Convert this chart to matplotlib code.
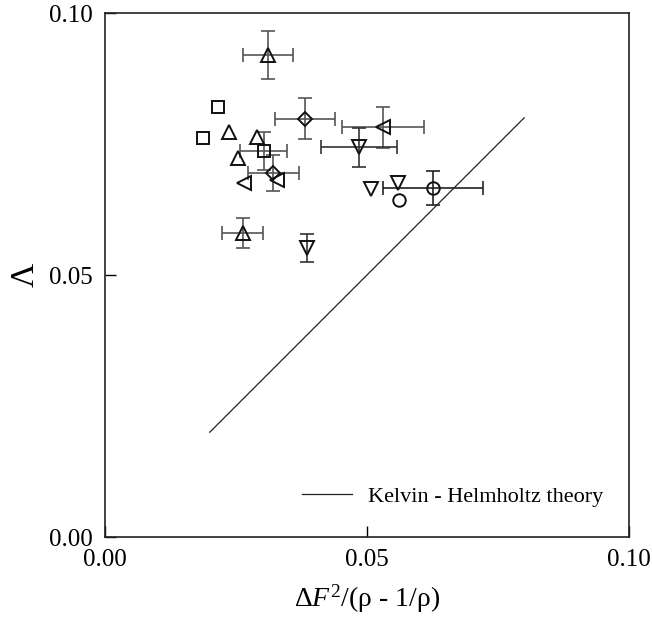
import matplotlib
matplotlib.use('Agg')
import matplotlib.pyplot as plt

plt.rcParams['font.family'] = ['Liberation Serif', 'DejaVu Serif']
plt.rcParams['mathtext.fontset'] = 'custom'
plt.rcParams['mathtext.rm'] = 'Liberation Serif'
plt.rcParams['mathtext.it'] = 'Liberation Serif:italic'

# data: x, y, xerr, yerr (0 = no bar)
up_x = [0.0311, 0.0237, 0.0290, 0.0254, 0.0263]
up_y = [0.0920, 0.0773, 0.0763, 0.0723, 0.0580]
up_xerr = [0.0047, 0, 0, 0, 0.0039]
up_yerr = [0.0046, 0, 0, 0, 0.0029]

sq_x = [0.0216, 0.0187, 0.0303]
sq_y = [0.0821, 0.0761, 0.0737]
sq_xerr = [0, 0, 0.0045]
sq_yerr = [0, 0, 0.0036]

dia_x = [0.0321, 0.0382]
dia_y = [0.0695, 0.0798]
dia_xerr = [0.0049, 0.0057]
dia_yerr = [0.0034, 0.0039]

left_x = [0.0265, 0.0328, 0.0531]
left_y = [0.0676, 0.0681, 0.0782]
left_xerr = [0, 0, 0.0078]
left_yerr = [0, 0, 0.0039]

down_x = [0.0385, 0.0485, 0.0508, 0.0559]
down_y = [0.0552, 0.0744, 0.0664, 0.0676]
down_xerr = [0, 0.0073, 0, 0]
down_yerr = [0.0027, 0.0037, 0, 0]

circ_x = [0.0561, 0.0626]
circ_y = [0.0643, 0.0666]
circ_xerr = [0, 0.0095]
circ_yerr = [0, 0.0032]

kh_x = [0.02, 0.08]
kh_y = [0.02, 0.08]

groups = [
    (up_x, up_y, up_xerr, up_yerr, '^', 10, '#555555'),
    (sq_x, sq_y, sq_xerr, sq_yerr, 's', 8, '#555555'),
    (dia_x, dia_y, dia_xerr, dia_yerr, 'D', 7, '#555555'),
    (left_x, left_y, left_xerr, left_yerr, '<', 10, '#555555'),
    (down_x, down_y, down_xerr, down_yerr, 'v', 10, '#333333'),
    (circ_x, circ_y, circ_xerr, circ_yerr, 'o', 9, '#222222'),
]

fig = plt.figure(figsize=(6.52, 6.25), dpi=100)
ax = fig.add_axes([0.161, 0.1408, 0.8037, 0.8384])

for xs, ys, xe, ye, m, ms, ec in groups:
    for x, y, dx, dy in zip(xs, ys, xe, ye):
        if dx > 0 or dy > 0:
            ax.errorbar(x, y, xerr=dx if dx > 0 else None, yerr=dy if dy > 0 else None,
                        fmt='none', ecolor=ec, elinewidth=1.2, capsize=5, capthick=1.2, zorder=2)
    ax.plot(xs, ys, m, ms=ms, mfc='none', mec='#111111', mew=1.4, zorder=3)

ax.plot(kh_x, kh_y, color='#222222', lw=0.9, label='Kelvin - Helmholtz theory')

ax.set_xlim(0, 0.1)
ax.set_ylim(0, 0.1)
ax.set_xticks([0, 0.05, 0.1])
ax.set_yticks([0, 0.05, 0.1])
ax.set_xticklabels(['0.00', '0.05', '0.10'])
ax.set_yticklabels(['0.00', '0.05', '0.10'])
ax.tick_params(direction='in', length=8, width=1, labelsize=18, top=False, right=False)
ax.tick_params(axis='x', pad=9)
ax.tick_params(axis='y', pad=9)
for s in ax.spines.values():
    s.set_linewidth(1.2)
    s.set_color('#222222')

ax.set_xlabel('Δ$F^2$/(ρ - 1/ρ)', fontsize=20, labelpad=8)
ax.set_ylabel('Λ', fontsize=24, labelpad=6)

ax.legend(loc='lower right', bbox_to_anchor=(1.0, 0.008), frameon=False, fontsize=16,
          handlelength=2.25, handletextpad=0.72, borderaxespad=0.75)

fig.savefig('out.png', dpi=100)
